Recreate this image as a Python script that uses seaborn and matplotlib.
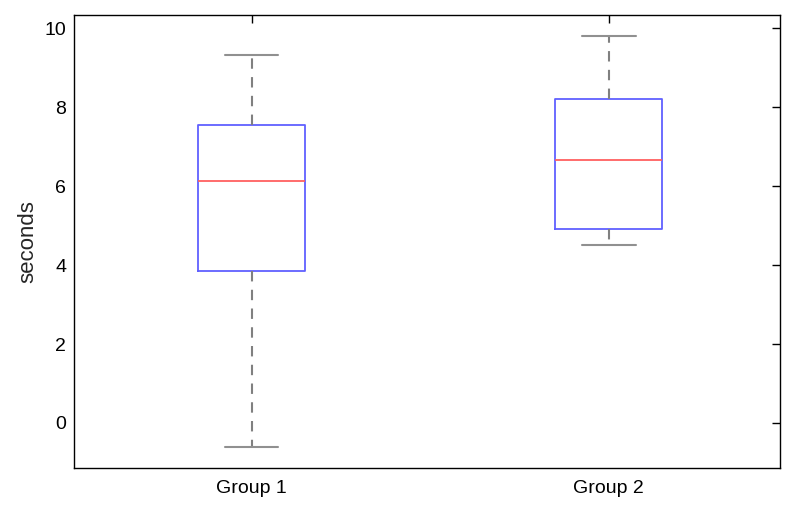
import matplotlib
matplotlib.use("Agg")
import matplotlib.pyplot as plt
import seaborn as sns
import pandas as pd

# five-number summary per group
groups = ["Group 1", "Group 2"]
group1_values = [-0.62, 3.86, 6.14, 7.55, 9.32]
group2_values = [4.51, 4.91, 6.67, 8.20, 9.81]
yticks = [0, 2, 4, 6, 8, 10]

df = pd.DataFrame({
    "group": [groups[0]] * len(group1_values) + [groups[1]] * len(group2_values),
    "seconds": group1_values + group2_values,
})

sns.set_style("white")
plt.rcParams["font.family"] = ["Liberation Sans", "DejaVu Sans"]

fig = plt.figure(figsize=(8, 5.12), dpi=100)
ax = fig.add_axes([0.093, 0.086, 0.882, 0.885])

sns.boxplot(
    data=df, x="group", y="seconds", ax=ax,
    width=0.3, fill=False, whis=(0, 100), color="#6060ff",
    boxprops=dict(color="#6060ff", linewidth=1.3),
    medianprops=dict(color="#ff6060", linewidth=1.3),
    whiskerprops=dict(color="#808080", linestyle=(0, (5, 4)), linewidth=1.5),
    capprops=dict(color="#909090", linewidth=1.5),
    showfliers=False,
)

ax.set_xlim(-0.496, 1.479)
ax.set_ylim(-1.14, 10.34)
ax.set_yticks(yticks)
ax.set_xlabel("")
ax.set_ylabel("seconds", fontsize=16, labelpad=4)
ax.tick_params(direction="in", length=6, width=1, top=True, right=True,
               labelsize=14, colors="black")
ax.tick_params(axis="x", pad=9)
ax.tick_params(axis="y", pad=6)
for s in ax.spines.values():
    s.set_visible(True)
    s.set_color("black")
    s.set_linewidth(1)

fig.savefig("out.png", dpi=100)
